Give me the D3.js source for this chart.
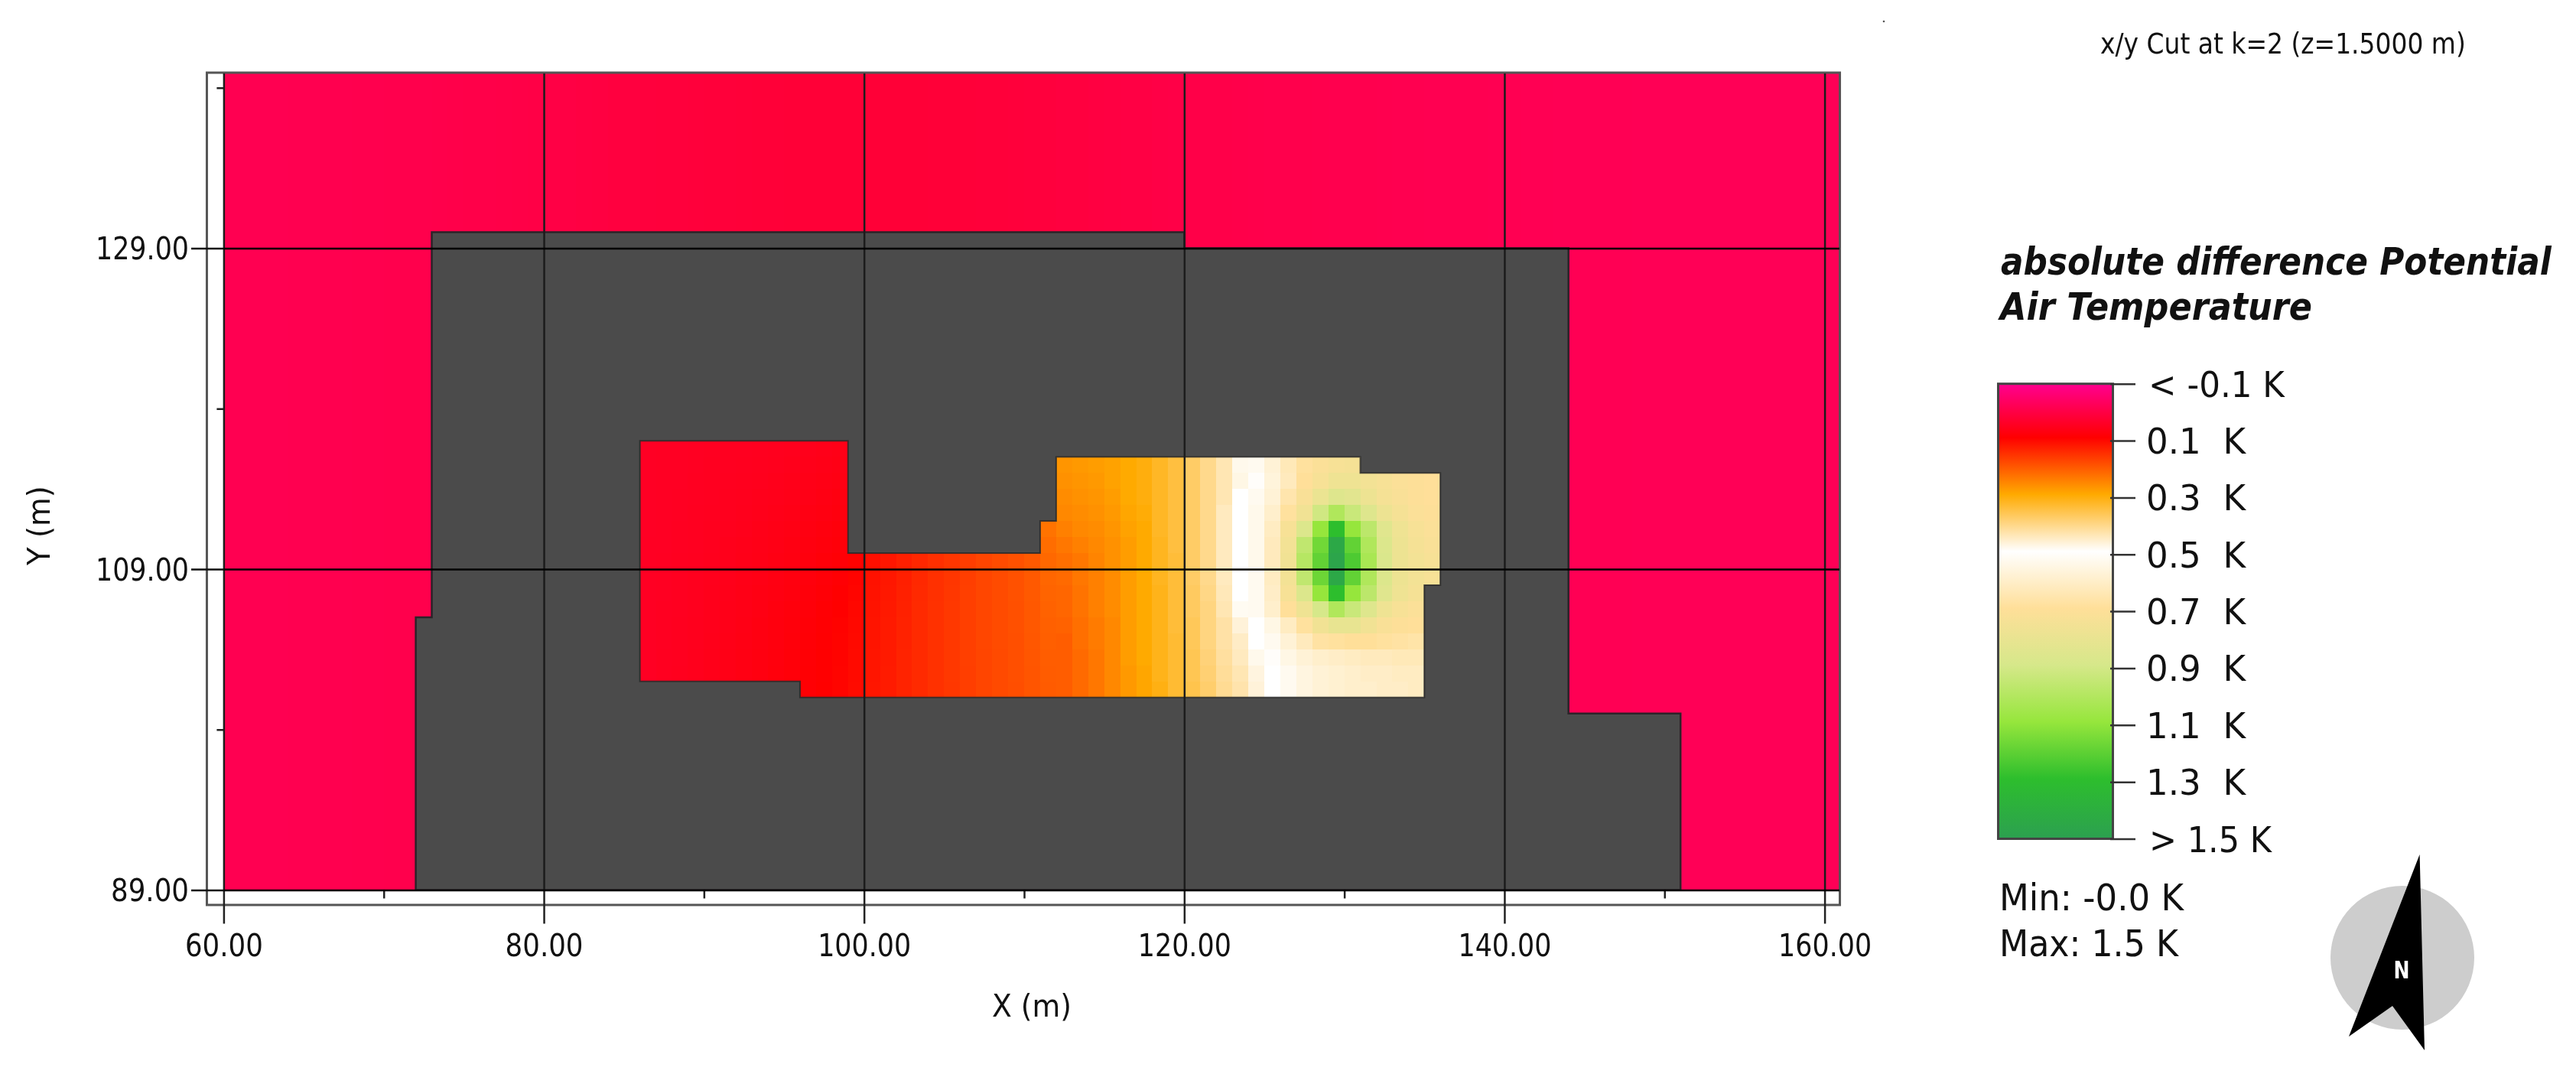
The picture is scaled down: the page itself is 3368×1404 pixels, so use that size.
<!DOCTYPE html>
<html>
<head>
<meta charset="utf-8">
<script src="https://cdn.jsdelivr.net/npm/d3@7/dist/d3.min.js"></script>
<style>
html,body{margin:0;padding:0;background:#fff;}
svg{display:block;filter:blur(0.6px);}
text{font-family:"DejaVu Sans",sans-serif;fill:#111;}
</style>
</head>
<body>
<svg id="chart" width="3368" height="1404"></svg>
<script>
// ---------- data ----------
const xMajor = [60, 80, 100, 120, 140, 160];
const xMinor = [70, 90, 110, 130, 150];
const yMajor = [89, 109, 129];
const yMinor = [99, 119, 139];
const legendStops = [-0.1, 0.1, 0.3, 0.5, 0.7, 0.9, 1.1, 1.3, 1.5];
const legendColors = ["#ff0090", "#ff0000", "#ffaa00", "#ffffff", "#ffdf99", "#d6e88a", "#96e63c", "#2dbe2d", "#2ca050"];
const legendLabels = ["< -0.1 K", "0.1  K", "0.3  K", "0.5  K", "0.7  K", "0.9  K", "1.1  K", "1.3  K", "> 1.5 K"];

// outside air, one value per metre column from x = 60 to x = 160
const outerColumns = [
-.013,-.013,-.012,-.012,-.011,-.011,-.010,-.010,-.009,-.008,
-.007,-.006,-.005,-.004,-.003,-.002,-.001,.000,.001,.003,
.004,.006,.008,.010,.012,.013,.015,.016,.017,.018,
.019,.020,.021,.022,.022,.023,.023,.024,.024,.024,
.024,.024,.023,.023,.022,.022,.021,.020,.019,.018,
.016,.015,.013,.012,.010,.008,.006,.005,.003,.001,
.000,-.001,-.002,-.003,-.004,-.005,-.006,-.006,-.007,-.008,
-.009,-.009,-.010,-.011,-.011,-.012,-.012,-.013,-.013,-.014,
-.014,-.015,-.015,-.016,-.016,-.017,-.017,-.017,-.018,-.018,
-.018,-.019,-.019,-.019,-.019,-.020,-.020,-.020,-.020,-.020,
-.020];

// building outline and courtyard outline (x, y in metres)
const buildingOutline = [[72,89],[72,106],[73,106],[73,130],[120,130],[120,129],[144,129],[144,100],[151,100],[151,89]];
const courtOutline = [[86,117],[99,117],[99,110],[111,110],[111,112],[112,112],[112,116],[131,116],[131,115],[136,115],[136,108],[135,108],[135,101],[96,101],[96,102],[86,102]];

// courtyard cells: x = 86..98, rows y = 116 down to 102
const westRowY = [116,115,114,113,112,111,110,109,108,107,106,105,104,103,102];
const westCells = [
[.05,.051,.052,.053,.054,.055,.056,.057,.058,.06,.062,.065,.068],
[.05,.051,.052,.053,.055,.056,.057,.059,.06,.062,.065,.068,.071],
[.05,.051,.052,.054,.055,.057,.058,.06,.062,.065,.068,.071,.074],
[.05,.051,.053,.054,.056,.058,.06,.062,.064,.067,.07,.074,.078],
[.05,.052,.053,.055,.057,.059,.061,.064,.067,.07,.073,.077,.081],
[.05,.052,.054,.056,.058,.06,.063,.066,.069,.072,.076,.08,.085],
[.051,.052,.054,.056,.059,.062,.065,.068,.071,.075,.079,.083,.088],
[.051,.053,.055,.057,.06,.063,.066,.07,.073,.077,.082,.087,.092],
[.051,.053,.055,.058,.061,.064,.068,.071,.075,.079,.084,.089,.095],
[.052,.053,.056,.059,.062,.065,.069,.073,.077,.081,.086,.092,.098],
[.052,.054,.056,.059,.063,.066,.07,.074,.079,.083,.088,.094,.1],
[.052,.054,.057,.06,.063,.067,.071,.076,.08,.085,.09,.096,.102],
[.052,.054,.057,.06,.064,.068,.072,.077,.081,.086,.092,.097,.103],
[.052,.055,.057,.061,.065,.069,.073,.078,.082,.087,.093,.098,.104],
[.052,.055,.058,.061,.065,.069,.074,.078,.083,.088,.094,.099,.105]
];
// x = 96..98 in the lowest row, y = 101
const westFoot = [.094,.1,.105];
// x = 99..111, rows y = 109 down to 101
const midRowY = [109,108,107,106,105,104,103,102,101];
const midCells = [
[.102,.118,.126,.136,.146,.155,.163,.172,.181,.188,.195,.205,.222],
[.104,.12,.127,.137,.147,.156,.164,.173,.182,.188,.195,.205,.22],
[.106,.121,.128,.138,.148,.157,.165,.174,.182,.188,.195,.205,.218],
[.108,.122,.129,.139,.149,.158,.166,.174,.182,.188,.194,.204,.215],
[.11,.123,.13,.14,.15,.158,.166,.174,.182,.188,.194,.203,.213],
[.111,.124,.131,.14,.15,.158,.166,.174,.182,.188,.193,.202,.212],
[.112,.125,.131,.141,.15,.158,.166,.174,.181,.187,.193,.201,.21],
[.112,.125,.132,.141,.15,.158,.166,.173,.181,.187,.193,.2,.208],
[.113,.126,.132,.141,.15,.158,.165,.173,.181,.187,.192,.2,.207]
];
// x = 111, rows y = 111 and 110
const stepRowY = [111,110];
const stepCells = [.235,.228];
// x = 112 onward, rows y = 115 down to 101
const eastRowY = [115,114,113,112,111,110,109,108,107,106,105,104,103,102,101];
const eastCells = [
[.275,.28,.285,.29,.30,.31,.33,.35,.38,.41,.44,.485,.53,.58,.64,.69,.72,.74,.75],
[.27,.275,.28,.29,.30,.31,.33,.35,.38,.41,.44,.48,.51,.57,.63,.70,.74,.78,.78,.76,.74,.72,.71,.70],
[.265,.27,.275,.285,.30,.31,.33,.35,.38,.41,.44,.50,.53,.58,.66,.73,.80,.86,.84,.79,.75,.73,.71,.70],
[.26,.265,.27,.28,.295,.305,.33,.35,.38,.41,.45,.50,.54,.60,.69,.77,.92,1.02,.94,.86,.79,.75,.72,.71],
[.25,.26,.265,.275,.29,.30,.33,.35,.38,.41,.45,.50,.54,.62,.74,.87,1.1,1.3,1.1,.98,.85,.78,.74,.72],
[.24,.25,.26,.27,.285,.30,.325,.35,.38,.41,.45,.50,.54,.63,.76,.97,1.17,1.45,1.2,1.02,.87,.79,.75,.73],
[.23,.24,.255,.27,.285,.30,.325,.345,.38,.41,.45,.50,.54,.63,.77,1.0,1.2,1.47,1.24,1.04,.88,.79,.76,.74],
[.225,.24,.25,.265,.285,.30,.325,.345,.38,.41,.45,.50,.53,.62,.76,.97,1.18,1.45,1.2,1.02,.87,.79,.76,.74],
[.22,.235,.25,.265,.285,.30,.32,.345,.375,.405,.445,.50,.53,.61,.74,.87,1.1,1.3,1.1,.98,.85,.78,.75],
[.22,.235,.25,.265,.285,.30,.32,.345,.375,.40,.44,.49,.53,.60,.70,.78,.9,1.02,.94,.86,.78,.74,.72],
[.215,.23,.245,.26,.285,.30,.32,.345,.37,.40,.43,.47,.50,.55,.62,.69,.77,.81,.81,.77,.73,.71,.70],
[.21,.23,.245,.26,.285,.30,.32,.34,.37,.40,.43,.455,.50,.53,.58,.63,.68,.69,.70,.70,.69,.68,.67],
[.21,.225,.24,.26,.285,.30,.32,.34,.365,.395,.425,.45,.485,.51,.55,.58,.60,.61,.62,.63,.63,.64,.64],
[.21,.225,.24,.26,.28,.295,.32,.34,.365,.39,.42,.44,.475,.50,.53,.56,.58,.59,.60,.61,.61,.62,.62],
[.21,.225,.24,.26,.28,.295,.315,.34,.36,.385,.415,.435,.47,.50,.53,.56,.58,.59,.60,.60,.61,.61,.62]
];

// ---------- scales ----------
const x = d3.scaleLinear().domain([60, 160]).range([292.4, 2385.6]);
const y = d3.scaleLinear().domain([89, 129]).range([1163.5, 324.5]);
const color = d3.scaleLinear().domain(legendStops).range(legendColors).interpolate(d3.interpolateRgb).clamp(true);
const legendY = d3.scaleLinear().domain([-0.1, 1.5]).range([501.7, 1096.5]);

const svg = d3.select("#chart");
const defs = svg.append("defs");

// ---------- field ----------
const cellRows = [];
function pushCells(x0, rowYs, rows) {
  rows.forEach((row, i) => row.forEach((v, j) => cellRows.push({x: x0 + j, y: rowYs[i], v})));
}
pushCells(86, westRowY, westCells);
pushCells(96, [101], [westFoot]);
pushCells(99, midRowY, midCells);
pushCells(111, stepRowY, stepCells.map(v => [v]));
pushCells(112, eastRowY, eastCells);

const plot = svg.append("g");
plot.selectAll("rect.outer").data(outerColumns).join("rect").attr("class", "outer")
  .attr("x", (d, i) => x(60 + i)).attr("y", y(140))
  .attr("width", (d, i) => x(61 + i) - x(60 + i)).attr("height", y(89) - y(140))
  .attr("fill", d => color(d)).attr("shape-rendering", "crispEdges");

const line = d3.line().x(d => x(d[0])).y(d => y(d[1])).curve(d3.curveLinearClosed);
plot.append("path").attr("d", line(buildingOutline))
  .attr("fill", "#4b4b4b").attr("stroke", "#2c2329").attr("stroke-width", 2.5);
plot.selectAll("rect.cell").data(cellRows).join("rect").attr("class", "cell")
  .attr("x", d => x(d.x)).attr("y", d => y(d.y + 1))
  .attr("width", d => x(d.x + 1) - x(d.x)).attr("height", d => y(d.y) - y(d.y + 1))
  .attr("fill", d => color(d.v)).attr("shape-rendering", "crispEdges");
plot.append("path").attr("d", line(courtOutline)).attr("fill", "none")
  .attr("stroke", "#2a2a2a").attr("stroke-width", 2).attr("stroke-opacity", 0.85);

// ---------- frame ----------
svg.append("rect").attr("x", x(59) - 1).attr("y", 95)
  .attr("width", x(161) - x(59)).attr("height", 1183 - 95)
  .attr("fill", "none").attr("stroke", "#555").attr("stroke-width", 3);

// ---------- axes ----------
function cleanAxis(g) { g.select(".domain").remove(); }
const xAxis = svg.append("g").attr("transform", `translate(0,${y(89)})`)
  .call(d3.axisBottom(x).tickValues(xMajor).tickSizeOuter(0).tickSizeInner(44).tickFormat(d3.format(".2f"))).call(cleanAxis);
xAxis.selectAll("line").attr("stroke", "#222").attr("stroke-width", 2.5);
xAxis.selectAll("text").attr("y", 86).attr("dy", 0).attr("text-anchor", "middle")
  .style("font-size", "41px").style("font-family", '"DejaVu Sans"')
  .attr("textLength", d => d >= 100 ? 122 : 102).attr("lengthAdjust", "spacingAndGlyphs");
const xGrid = svg.append("g").attr("transform", `translate(0,${y(89)})`)
  .call(d3.axisBottom(x).tickValues(xMajor).tickSizeOuter(0).tickSizeInner(-(y(89) - 96)).tickFormat("")).call(cleanAxis);
xGrid.selectAll("line").attr("stroke", "#1c1c1c").attr("stroke-width", 2.5);
xGrid.selectAll("text").remove();
const xMinorAxis = svg.append("g").attr("transform", `translate(0,${y(89)})`)
  .call(d3.axisBottom(x).tickValues(xMinor).tickSizeOuter(0).tickSizeInner(11).tickFormat("")).call(cleanAxis);
xMinorAxis.selectAll("line").attr("stroke", "#222").attr("stroke-width", 2.5);
xMinorAxis.selectAll("text").remove();

const yAxis = svg.append("g").attr("transform", `translate(${x(60)},0)`)
  .call(d3.axisLeft(y).tickValues(yMajor).tickSizeOuter(0).tickSizeInner(x(60) - 250).tickFormat(d3.format(".2f"))).call(cleanAxis);
yAxis.selectAll("line").attr("stroke", "#111").attr("stroke-width", 2.5);
yAxis.selectAll("text").attr("x", -(x(60) - 247)).attr("dy", 14).attr("text-anchor", "end")
  .style("font-size", "41px").style("font-family", '"DejaVu Sans"')
  .attr("textLength", d => d >= 100 ? 122 : 102).attr("lengthAdjust", "spacingAndGlyphs");
const yGrid = svg.append("g").attr("transform", `translate(${x(60)},0)`)
  .call(d3.axisLeft(y).tickValues(yMajor).tickSizeOuter(0).tickSizeInner(-(2405 - x(60))).tickFormat("")).call(cleanAxis);
yGrid.selectAll("line").attr("stroke", "#000").attr("stroke-width", 2.5);
yGrid.selectAll("text").remove();
const yMinorAxis = svg.append("g").attr("transform", `translate(${x(60)},0)`)
  .call(d3.axisLeft(y).tickValues(yMinor).tickSizeOuter(0).tickSizeInner(9).tickFormat("")).call(cleanAxis);
yMinorAxis.selectAll("line").attr("stroke", "#222").attr("stroke-width", 2.5);
yMinorAxis.selectAll("text").remove();

// text that is squeezed to the width it has in the picture, by a horizontal scale
function label(str, lx, ly, width, size, extra) {
  const t = svg.append("text").text(str).style("white-space", "pre").style("font-size", size + "px");
  if (extra) extra(t);
  const natural = t.node().getComputedTextLength();
  t.attr("transform", `translate(${lx},${ly}) scale(${width / natural},1)`);
  return t;
}
label("X (m)", 1297, 1329, 104, 41);
const yTitle = svg.append("text").text("Y (m)").style("font-size", "41px");
yTitle.attr("transform", `translate(65,739) rotate(-90) scale(${104 / yTitle.node().getComputedTextLength()},1)`);

// ---------- title ----------
label("x/y Cut at k=2 (z=1.5000 m)", 2746, 70, 478, 37);
svg.append("circle").attr("cx", 2463).attr("cy", 28).attr("r", 1.3).attr("fill", "#555");

// ---------- legend ----------
const bold = t => t.style("font-weight", "bold").style("font-style", "italic");
label("absolute difference Potential", 2616, 359, 720, 49, bold);
label("Air Temperature", 2615, 418, 408, 49, bold);

const grad = defs.append("linearGradient").attr("id", "legendGrad")
  .attr("gradientUnits", "userSpaceOnUse").attr("x1", 0).attr("x2", 0).attr("y1", 501.7).attr("y2", 1096.5);
grad.selectAll("stop").data(legendStops).join("stop")
  .attr("offset", (d, i) => {
    const shift = (i === 0 || i === legendStops.length - 1) ? 0 : 4;
    return (legendY(d) - shift - 501.7) / (1096.5 - 501.7);
  })
  .attr("stop-color", (d, i) => legendColors[i]);
svg.append("rect").attr("x", 2612.5).attr("y", 501.7).attr("width", 150).attr("height", 1096.5 - 501.7)
  .attr("fill", "url(#legendGrad)").attr("stroke", "#444").attr("stroke-width", 3);

const legendAxis = svg.append("g").attr("transform", "translate(2792,0)")
  .call(d3.axisLeft(legendY).tickValues(legendStops).tickSizeOuter(0).tickSizeInner(33).tickFormat("")).call(cleanAxis);
legendAxis.selectAll("line").attr("stroke", "#333").attr("stroke-width", 2.5);
legendAxis.selectAll("text").remove();

const legendWidths = [178, 130, 130, 130, 130, 130, 130, 130, 160];
const legendLeft = [2809, 2806, 2806, 2806, 2806, 2806, 2806, 2806, 2810];
legendLabels.forEach((d, i) => label(d, legendLeft[i], legendY(legendStops[i]) + 17, legendWidths[i], 47));

label("Min: -0.0 K", 2614, 1190, 241, 48);
label("Max: 1.5 K", 2614, 1250, 234, 48);

// ---------- north arrow ----------
svg.append("ellipse").attr("cx", 3141).attr("cy", 1252).attr("rx", 94).attr("ry", 94).attr("fill", "#cdcdcd");
const arrowShape = [[3163.6,1117],[3170,1373],[3128,1315],[3071,1355]];
svg.append("polygon").attr("points", arrowShape.map(p => p.join(",")).join(" ")).attr("fill", "#000");
label("N", 3129.5, 1279, 21, 32, t => t.style("font-weight", "bold").style("fill", "#fff"));
</script>
</body>
</html>
